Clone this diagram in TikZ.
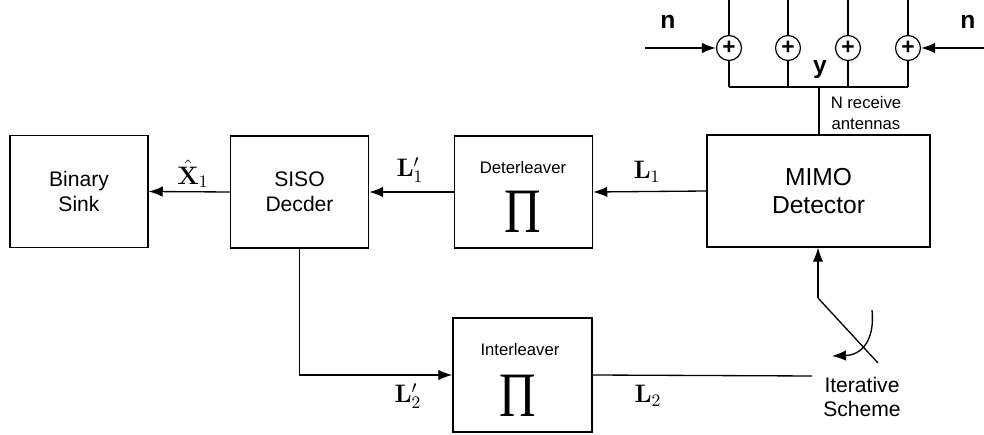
\documentclass[tikz,border=0pt]{standalone}
\usepackage{amsmath}
\usepackage{graphicx}
\usepackage[no-math]{fontspec}
\setmainfont{Liberation Sans}
\newfontfamily\pifont{Liberation Serif}
\usetikzlibrary{arrows.meta,positioning,calc}

\newcommand{\permsym}{\scalebox{0.8}[1]{\pifont Π}}

\tikzset{
  >={Latex[length=8pt,width=6pt]},
  block/.style={draw, line width=0.8pt, minimum width=2.76cm, minimum height=2.24cm, inner sep=0pt},
  boxtxt/.style={align=center, font=\fontsize{12}{14}\selectfont},
  smalltxt/.style={font=\fontsize{9.5}{11}\selectfont, align=center},
  perm/.style={font=\fontsize{36}{36}\selectfont, inner sep=0pt},
  lbl/.style={font=\fontsize{14}{16}\selectfont, inner sep=1pt},
  sum/.style={draw, circle, line width=0.7pt, minimum size=0.5cm, inner sep=0pt, fill=white, font=\fontsize{13}{13}\selectfont\bfseries},
  noise/.style={font=\fontsize{14}{16}\selectfont\bfseries},
}

\begin{document}
\begin{tikzpicture}[x=0.02cm, y=-0.02cm, line width=0.75pt]
        \useasboundingbox (0,0) rectangle (984,435);

        % blocks
        \node [block, boxtxt] (sink) at (79,191.5) {Binary\\Sink};
        \node [block, boxtxt] (siso) at (299.5,192) {SISO\\Decder};
        \node [block] (deint) at (523.5,192) {};
        \node [block, minimum width=4.46cm, align=center, font=\fontsize{14}{16}\selectfont] (mimo) at (818.5,191) {MIMO\\Detector};
        \node [block, minimum width=2.78cm, minimum height=2.28cm] (inter) at (522.5,375) {};

        \node [smalltxt] (deinttxt) at (523,168) {Deterleaver};
        \node [perm] (deintpi) at (523,212) {\permsym};
        \node [smalltxt] (intertxt) at (520,350) {Interleaver};
        \node [perm] (interpi) at (518,396) {\permsym};

        % forward chain
        \draw [->] (mimo.west) -- (deint.east);
        \draw [->] (deint.west) -- (siso.east);
        \draw [->] (siso.west) -- (sink.east);

        \node [lbl] (xhat) at (193,174) {$\hat{\mathbf{X}}_1$};
        \node [lbl] (l1p) at (410,170) {$\mathbf{L}'_1$};
        \node [lbl] (l1) at (647,172) {$\mathbf{L}_1$};

        % feedback path
        \draw [->] (siso.south) |- (inter.west);
        \coordinate (l2end) at (812,376);
        \draw (inter.east) -- (l2end);
        \node [lbl] (l2p) at (408,396) {$\mathbf{L}'_2$};
        \node [lbl] (l2) at (648,396) {$\mathbf{L}_2$};

        % iterative switch
        \coordinate (sw) at (818,298);
        \coordinate (swend) at (878,363);
        \draw [->] (sw) -- (sw |- mimo.south);
        \draw (sw) -- (swend);
        \coordinate (arcs) at (872,310);
        \coordinate (arce) at (832,356);
        \draw [->] (arcs) .. controls (875,340) and (862,355) .. (arce);
        \node [boxtxt] (iter) at (862,397) {Iterative\\Scheme};

        % receive antennas and noise
        \foreach \i/\x in {1/729,2/788,3/848,4/908} {
            \coordinate (t\i) at (\x,0);
            \coordinate (b\i) at (\x,87);
            \draw (t\i) -- (b\i);
            \node [sum] (s\i) at (\x,48) {+};
        }
        \draw (b1) -- (b4);
        \coordinate (ym) at (819,87);
        \draw (ym) -- (ym |- mimo.north);

        \coordinate (nl) at (645,48);
        \coordinate (nr) at (984,48);
        \draw [->] (nl) -- (s1.west);
        \draw [->] (nr) -- (s4.east);
        \node [noise] (nlt) at (668,22) {n};
        \node [noise] (nrt) at (968,22) {n};
        \node [noise] (ylbl) at (820,70) {y};
        \node [smalltxt, font=\fontsize{9.5}{11.5}\selectfont] (ant) at (866,113) {N receive\\antennas};
    \end{tikzpicture}
\end{document}
